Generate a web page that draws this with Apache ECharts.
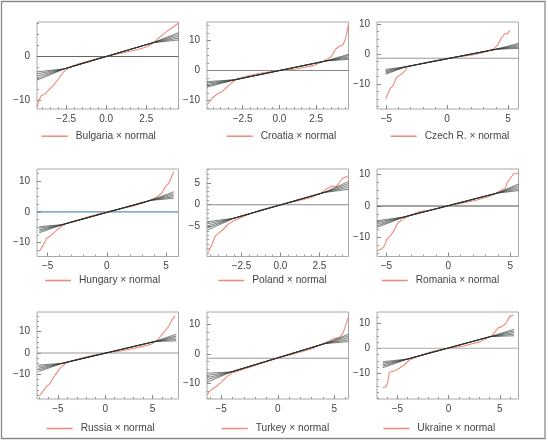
<!DOCTYPE html>
<html><head><meta charset="utf-8">
<script src="https://cdn.jsdelivr.net/npm/echarts@6/dist/echarts.min.js"></script>
<style>html,body{margin:0;padding:0;background:#fff}#c{width:548px;height:440px}</style>
</head><body><div id="c"></div>
<script>
// ---- data ----
const countries = ['Bulgaria','Croatia','Czech R.','Hungary','Poland','Romania','Russia','Turkey','Ukraine'];
const xMin = [-4.32,-4.92,-5.77,-5.9,-4.72,-5.76,-7.2,-6.25,-7.0];
const xMax = [4.51,4.7,5.87,6.05,4.37,5.67,7.74,6.25,6.83];
const yMin = [-12.0,-12.9,-18.4,-14.5,-11.85,-16.1,-21.7,-15.25,-20.3];
const yMax = [7.9,16.2,10.6,13.9,8.17,11.8,19.3,14.24,14.5];
const xTickValues = [[-2.5,0,2.5],[-2.5,0,2.5],[-5,0,5],[-5,0,5],[-2.5,0,2.5],[-5,0,5],[-5,0,5],[-5,0,5],[-5,0,5]];
const xTickDecimals = [1,1,0,0,1,0,0,0,0];
const yTickValues = [[-10,0],[-10,0,10],[-10,0,10],[-10,0,10],[-5,0,5],[-10,0,10],[-10,0,10],[-10,0,10],[-10,0,10]];
const xMinorStep = [0.5,0.5,1,1,0.5,1,1,1,1];
const yMinorStep = [2.5,2.5,2.5,2.5,1,2.5,2.5,2.5,2.5];
const baseline = [0,0,-1.5,0,0,0,0,-1.45,0];

const bulgariaX = [-4.3,-4.2,-4.05,-3.85,-3.6,-3.3,-3.0,-2.7,-2.4,-2.0,-1.5,-1.0,-0.5,0,0.5,1.0,1.5,2.0,2.5,2.9,3.2,3.5,3.8,4.1,4.5];
const bulgariaY = [-11.6,-10.0,-8.9,-8.7,-7.7,-6.6,-5.2,-3.7,-2.7,-2.0,-1.4,-0.9,-0.4,0,0.4,0.8,1.2,1.6,2.2,3.0,4.0,4.9,5.8,6.6,7.6];
const croatiaX = [-4.88,-4.58,-4.24,-3.9,-3.56,-3.23,-2.9,-2.2,-1.3,0,1.16,2.28,2.96,3.53,3.82,4.04,4.31,4.47,4.58,4.7];
const croatiaY = [-11.3,-9.3,-7.9,-7.1,-5.6,-4.1,-2.85,-1.85,-0.95,0,0.5,1.6,2.95,4.6,7.1,8.0,8.5,10.2,12.4,15.5];
const czechX = [-5.06,-4.87,-4.67,-4.46,-4.26,-4.13,-3.77,-3.5,-3.23,-2.27,-1.18,0,1.0,2.1,3.2,3.88,4.15,4.43,4.7,4.97,5.16];
const czechY = [-15.1,-13.2,-11.5,-10.7,-8.8,-7.7,-6.8,-5.8,-4.3,-3.4,-2.4,-1.5,-1.0,-0.4,0.7,1.8,2.9,5.1,6.5,6.8,7.7];
const hungaryX = [-5.71,-5.37,-5.08,-4.8,-4.38,-3.96,-3.39,-2.26,-1.14,0,1.13,2.25,3.39,4.24,4.66,4.94,5.22,5.42,5.64];
const hungaryY = [-12.9,-10.8,-8.6,-7.9,-6.5,-5.0,-3.7,-2.45,-1.15,0,0.9,1.9,3.3,4.9,6.2,8.2,9.25,10.9,13.0];
const polandX = [-4.63,-4.41,-4.19,-3.98,-3.66,-3.34,-2.9,-2.15,-1.29,0,0.86,1.94,2.58,3.01,3.34,3.55,3.76,3.98,4.19,4.37];
const polandY = [-10.75,-9.2,-7.2,-6.55,-5.56,-4.4,-3.5,-2.36,-1.2,0,0.7,1.6,2.6,3.75,4.3,4.1,4.9,6.0,6.4,6.3];
const romaniaX = [-5.76,-5.44,-5.17,-4.96,-4.63,-4.37,-4.1,-3.7,-3.03,-2.36,-1.42,0,0.99,2.33,3.4,4.2,4.6,4.74,5.0,5.27,5.67];
const romaniaY = [-14.3,-13.8,-12.8,-10.6,-9.3,-7.7,-5.5,-4.25,-2.9,-1.8,-1.3,0,0.85,1.9,3.2,4.9,5.65,7.25,8.85,10.2,10.6];
const russiaX = [-6.94,-6.58,-6.22,-5.87,-5.51,-5.16,-4.73,-4.02,-2.6,-1.19,0,1.65,3.42,4.84,5.55,5.9,6.26,6.54,6.79,7.04,7.4];
const russiaY = [-20.1,-18.2,-15.8,-14.7,-11.9,-9.6,-6.9,-4.4,-2.5,-0.95,0,0.95,2.5,4.1,6.1,8.2,10.1,11.6,13.2,15.6,17.6];
const turkeyX = [-6.26,-5.9,-5.46,-5.02,-4.58,-4.13,-2.95,-1.48,0,1.47,2.95,4.42,5.0,5.45,5.75,5.96,6.25];
const turkeyY = [-13.9,-12.2,-11.1,-9.6,-8.0,-6.55,-5.1,-3.2,-1.46,0.1,1.7,4.2,5.3,5.55,7.0,9.3,12.6];
const ukraineX = [-6.44,-6.12,-5.95,-5.8,-5.31,-4.82,-4.34,-3.85,-2.72,-1.43,0,1.49,3.1,4.24,4.56,4.88,5.21,5.53,5.7,5.95,6.34];
const ukraineY = [-15.8,-15.4,-13.6,-9.6,-9.1,-8.0,-6.7,-4.7,-2.7,-1.1,0,0.9,2.65,5.05,6.65,8.25,8.65,9.7,10.65,12.65,13.3];

// normal reference lines: x knots, shared middle values, fanned end values
const envX = [[-4.32,-2.6,2.9,4.51],[-4.92,-3.0,3.19,4.7],[-5.06,-3.36,4.0,5.87],[-5.71,-3.8,3.67,5.64],[-4.69,-3.0,2.8,4.37],[-5.76,-3.57,3.94,5.67],[-7.04,-4.55,5.2,7.5],[-6.25,-4.13,4.12,6.25],[-6.44,-4.0,4.08,6.4]];
const envMid = [[-2.8,3.15],[-3.1,3.2],[-4.3,1.5],[-4.2,3.7],[-3.1,2.8],[-3.5,4.1],[-4.9,5.35],[-6.1,3.5],[-4.3,4.65]];
const envLeft = [[-3.5,-3.95,-4.45,-4.95,-5.4],[-3.75,-4.2,-4.7,-5.15,-5.6],[-5.2,-5.6,-6.0,-6.4,-6.8],[-4.8,-5.3,-5.8,-6.3,-6.8],[-3.9,-4.35,-4.85,-5.3,-5.8],[-4.7,-5.2,-5.75,-6.3,-6.8],[-5.7,-6.45,-7.25,-8.0,-8.8],[-6.5,-7.25,-8.05,-8.8,-9.6],[-5.4,-6.0,-6.6,-7.2,-7.8]];
const envRight = [[3.8,4.2,4.6,5.05,5.45],[3.7,4.1,4.55,5.0,5.4],[1.8,2.2,2.6,3.05,3.5],[4.4,4.9,5.4,5.95,6.5],[3.5,3.95,4.4,4.85,5.3],[4.9,5.4,5.95,6.5,7.0],[5.7,6.45,7.25,8.0,8.8],[4.2,4.8,5.45,6.1,6.7],[5.0,5.65,6.3,6.95,7.6]];

const qqX = [bulgariaX,croatiaX,czechX,hungaryX,polandX,romaniaX,russiaX,turkeyX,ukraineX];
const qqY = [bulgariaY,croatiaY,czechY,hungaryY,polandY,romaniaY,russiaY,turkeyY,ukraineY];

// ---- layout / style ----
const gridLeft = [37,207,377], gridTop = [22,169,312], gridH = [87,87.5,87], gridW = 141.5;
const legendLeft = [41.7,226.7,390.7,45,218.3,381.7,46.7,221.7,383.3];
const legendCenterY = [137.7,282,430];
const baseColors = ['#666','#8a8a8a','#999','#5b8fb5','#8a8a8a','#4a4a4a','#999','#999','#aaa'];
const FONT = "'Liberation Sans', Arial, sans-serif";
const SALMON = '#ef8a78';

function fmt(v, d){ const s = Math.abs(v).toFixed(d); return (v < -1e-9 ? '\u2212' : '') + s; }
function minorVals(mn, mx, step, majors){
  const out = [];
  for (let k = Math.ceil(mn/step - 1e-9); k*step <= mx + 1e-9; k++){
    const v = +(k*step).toFixed(6);
    if (!majors.some(m => Math.abs(m - v) < 1e-9)) out.push(v);
  }
  return out;
}

const grids = [], xAxes = [], yAxes = [], series = [], legends = [];
for (let i = 0; i < 9; i++){
  const r = Math.floor(i/3), c = i % 3;
  grids.push({left: gridLeft[c], top: gridTop[r], width: gridW, height: gridH[r], show: true,
    borderColor: '#a8a8a8', borderWidth: 1, backgroundColor: 'transparent', containLabel: false});
  const common = {type: 'value', gridIndex: i, splitLine: {show: false}, axisLine: {show: false, onZero: false}};
  xAxes.push(Object.assign({}, common, {position: 'bottom', min: xMin[i], max: xMax[i],
    axisTick: {show: true, inside: true, length: 4, customValues: xTickValues[i], lineStyle: {color: '#888', width: 1}},
    axisLabel: {show: true, customValues: xTickValues[i], margin: 5, fontSize: 10, color: '#444', fontFamily: FONT,
      formatter: (v) => fmt(v, xTickDecimals[i])}}));
  xAxes.push(Object.assign({}, common, {position: 'bottom', min: xMin[i], max: xMax[i],
    axisTick: {show: true, inside: true, length: 2, customValues: minorVals(xMin[i], xMax[i], xMinorStep[i], xTickValues[i]), lineStyle: {color: '#999', width: 1}},
    axisLabel: {show: false}}));
  yAxes.push(Object.assign({}, common, {position: 'left', min: yMin[i], max: yMax[i],
    axisTick: {show: true, inside: true, length: 4, customValues: yTickValues[i], lineStyle: {color: '#888', width: 1}},
    axisLabel: {show: true, customValues: yTickValues[i], margin: 7, fontSize: 10, color: '#444', fontFamily: FONT,
      formatter: (v) => fmt(v, 0)}}));
  yAxes.push(Object.assign({}, common, {position: 'left', min: yMin[i], max: yMax[i],
    axisTick: {show: true, inside: true, length: 2, customValues: minorVals(yMin[i], yMax[i], yMinorStep[i], yTickValues[i]), lineStyle: {color: '#999', width: 1}},
    axisLabel: {show: false}}));

  const name = countries[i] + ' \u00d7 normal';
  series.push({type: 'line', xAxisIndex: 2*i, yAxisIndex: 2*i, data: [[xMin[i], baseline[i]], [xMax[i], baseline[i]]],
    symbol: 'none', silent: true, z: 1, lineStyle: {color: baseColors[i], width: 1.1}, animation: false});
  series.push({type: 'line', name: name, xAxisIndex: 2*i, yAxisIndex: 2*i,
    data: qqX[i].map((x, k) => [x, qqY[i][k]]), symbol: 'none', z: 2, color: SALMON,
    lineStyle: {color: SALMON, width: 1.1}, animation: false});
  for (let k = 0; k < 5; k++){
    series.push({type: 'line', xAxisIndex: 2*i, yAxisIndex: 2*i, symbol: 'none', silent: true, z: 3,
      data: [[envX[i][0], envLeft[i][k]], [envX[i][1], envMid[i][0]], [envX[i][2], envMid[i][1]], [envX[i][3], envRight[i][k]]],
      lineStyle: {color: '#25312e', width: 0.8, opacity: 0.75}, animation: false});
  }
  legends.push({data: [name], left: legendLeft[i], top: legendCenterY[r] - 6.5, padding: 0, selectedMode: false,
    icon: 'rect', itemWidth: 26, itemHeight: 1.5,
    textStyle: {fontSize: 10.2, color: '#444', fontFamily: FONT, padding: [0, 0, 0, 3]}});
}

const chart = echarts.init(document.getElementById('c'), null, {renderer: 'canvas'});
chart.setOption({
  backgroundColor: '#fff',
  animation: false,
  grid: grids, xAxis: xAxes, yAxis: yAxes, series: series, legend: legends,
  graphic: [{type: 'rect', shape: {x: 1.5, y: 1.5, width: 543.5, height: 437}, style: {fill: 'none', stroke: '#8a8a8a', lineWidth: 1.3}, silent: true}]
});
</script></body></html>
